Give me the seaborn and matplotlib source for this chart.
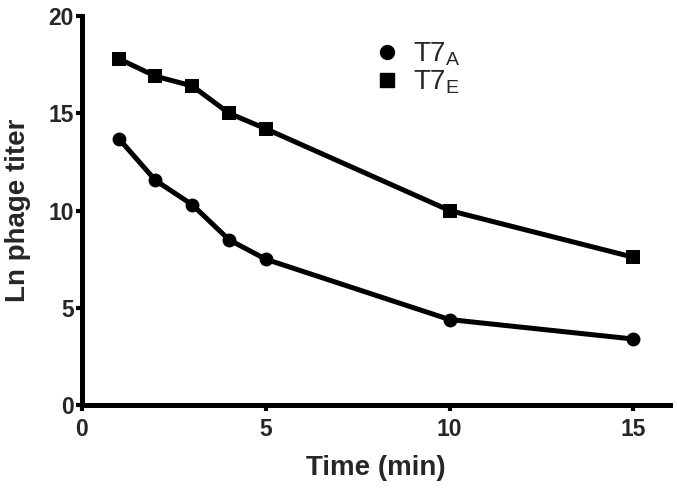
import pandas as pd
import seaborn as sns
import matplotlib.pyplot as plt
from matplotlib.lines import Line2D

time_min = [1, 2, 3, 4, 5, 10, 15]
t7a = [13.7, 11.55, 10.3, 8.5, 7.5, 4.4, 3.4]
t7e = [17.8, 16.9, 16.4, 15.0, 14.2, 10.0, 7.6]
labels = [r"T7$_\mathregular{A}$", r"T7$_\mathregular{E}$"]

df = pd.DataFrame({
    "Time": time_min * 2,
    "Titer": t7a + t7e,
    "Phage": ["T7A"] * len(t7a) + ["T7E"] * len(t7e),
})

sns.set_style("ticks")
plt.rcParams["font.family"] = ["Liberation Sans", "DejaVu Sans"]
plt.rcParams["mathtext.default"] = "regular"

fig = plt.figure(figsize=(6.77, 4.96), dpi=100)
ax = fig.add_axes([0.121, 0.183, 0.869, 0.785])

sns.lineplot(data=df, x="Time", y="Titer", hue="Phage", style="Phage",
             markers={"T7A": "o", "T7E": "s"}, dashes=False,
             palette={"T7A": "black", "T7E": "black"},
             linewidth=3.6, markersize=10, markeredgewidth=0,
             legend=False, ax=ax)

ax.set_xlim(0, 16)
ax.set_ylim(0, 20)
ax.set_xticks([0, 5, 10, 15])
ax.set_yticks([0, 5, 10, 15, 20])
ax.set_xlabel("Time (min)", fontsize=20, fontweight="bold", labelpad=10)
ax.set_ylabel("Ln phage titer", fontsize=20, fontweight="bold", labelpad=12)
for lab in ax.get_xticklabels() + ax.get_yticklabels():
    lab.set_fontweight("bold")
ax.tick_params(labelsize=16.5, width=3, length=4, color="black", pad=2)
ax.tick_params(axis="x", pad=5)
sns.despine(ax=ax)
for s in ["left", "bottom"]:
    ax.spines[s].set_linewidth(3.6)
    ax.spines[s].set_color("black")

handles = [Line2D([], [], color="black", marker=m, linestyle="none", markersize=10)
           for m in ["o", "s"]]
ax.legend(handles, labels, loc="upper left", bbox_to_anchor=(0.44, 1.0),
          frameon=False, fontsize=20, handletextpad=0.2, labelspacing=0.02,
          handlelength=1.5)

fig.savefig("out.png", dpi=100)
